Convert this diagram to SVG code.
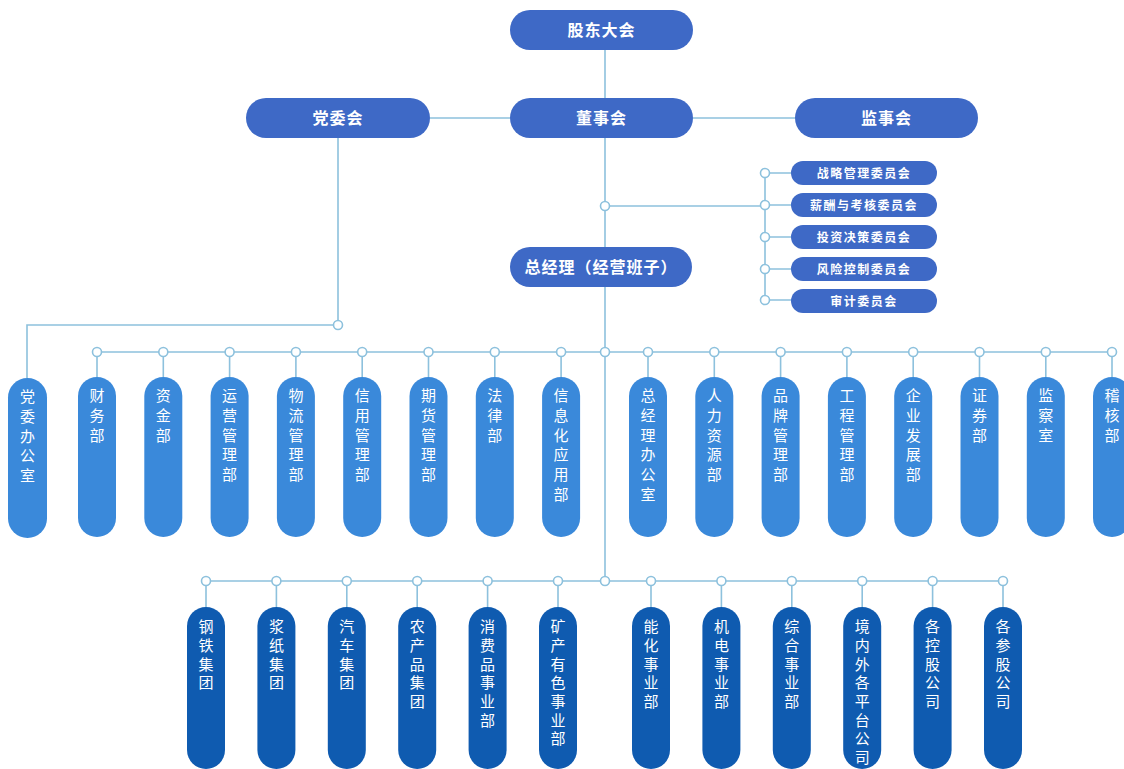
<svg xmlns="http://www.w3.org/2000/svg" width="1124" height="769" viewBox="0 0 1124 769">
<style>
text{font-family:"Noto Sans CJK SC","Noto Sans",sans-serif;fill:#fff;text-anchor:middle}
.top rect{fill:#3e69c6}
.top text{font-size:16px;font-weight:bold;letter-spacing:1px}
.com rect{fill:#3e69c6}
.com text{font-size:12px;font-weight:bold;letter-spacing:1.5px}
.dept rect{fill:#3a89da}
.bu rect{fill:#0f5bb0}
.v text{font-size:15px;writing-mode:vertical-rl;text-anchor:start}
.dept text{letter-spacing:4.7px}
.bu text{letter-spacing:3.7px}
.ln{stroke:#8dc1dd;stroke-width:1.6;fill:none}
.dot{fill:#fff;stroke:#8dc1dd;stroke-width:1.6}
</style>
<g id="connectors">
<path class="ln" d="M605 50V581"/>
<path class="ln" d="M430 118H510M693 118H795"/>
<path class="ln" d="M338 138V325H27V378"/>
<path class="ln" d="M605 206H765M765 173V300M765 173H791M765 205H791M765 237H791M765 269H791M765 300H791"/>
<path class="ln" d="M97 352H1112"/>
<path class="ln" d="M97 352V377M163.3 352V377M229.6 352V377M295.9 352V377M362.2 352V377M428.5 352V377M494.8 352V377M561.1 352V377M648 352V377M714.3 352V377M780.6 352V377M846.9 352V377M913.2 352V377M979.5 352V377M1045.8 352V377M1112 352V377"/>
<path class="ln" d="M206 581H1003"/>
<path class="ln" d="M206 581V607M276.4 581V607M346.8 581V607M417.2 581V607M487.6 581V607M558 581V607M651 581V607M721.4 581V607M791.8 581V607M862.2 581V607M932.6 581V607M1003 581V607"/>
<g>
<circle class="dot" cx="338" cy="325" r="4.5"/>
<circle class="dot" cx="605" cy="206" r="4.5"/>
<circle class="dot" cx="765" cy="173" r="4.5"/>
<circle class="dot" cx="765" cy="205" r="4.5"/>
<circle class="dot" cx="765" cy="237" r="4.5"/>
<circle class="dot" cx="765" cy="269" r="4.5"/>
<circle class="dot" cx="765" cy="300" r="4.5"/>
<circle class="dot" cx="605" cy="352" r="4.5"/>
<circle class="dot" cx="97" cy="352" r="4.5"/>
<circle class="dot" cx="163.3" cy="352" r="4.5"/>
<circle class="dot" cx="229.6" cy="352" r="4.5"/>
<circle class="dot" cx="295.9" cy="352" r="4.5"/>
<circle class="dot" cx="362.2" cy="352" r="4.5"/>
<circle class="dot" cx="428.5" cy="352" r="4.5"/>
<circle class="dot" cx="494.8" cy="352" r="4.5"/>
<circle class="dot" cx="561.1" cy="352" r="4.5"/>
<circle class="dot" cx="648" cy="352" r="4.5"/>
<circle class="dot" cx="714.3" cy="352" r="4.5"/>
<circle class="dot" cx="780.6" cy="352" r="4.5"/>
<circle class="dot" cx="846.9" cy="352" r="4.5"/>
<circle class="dot" cx="913.2" cy="352" r="4.5"/>
<circle class="dot" cx="979.5" cy="352" r="4.5"/>
<circle class="dot" cx="1045.8" cy="352" r="4.5"/>
<circle class="dot" cx="1112" cy="352" r="4.5"/>
<circle class="dot" cx="605" cy="581" r="4.5"/>
<circle class="dot" cx="206" cy="581" r="4.5"/>
<circle class="dot" cx="276.4" cy="581" r="4.5"/>
<circle class="dot" cx="346.8" cy="581" r="4.5"/>
<circle class="dot" cx="417.2" cy="581" r="4.5"/>
<circle class="dot" cx="487.6" cy="581" r="4.5"/>
<circle class="dot" cx="558" cy="581" r="4.5"/>
<circle class="dot" cx="651" cy="581" r="4.5"/>
<circle class="dot" cx="721.4" cy="581" r="4.5"/>
<circle class="dot" cx="791.8" cy="581" r="4.5"/>
<circle class="dot" cx="862.2" cy="581" r="4.5"/>
<circle class="dot" cx="932.6" cy="581" r="4.5"/>
<circle class="dot" cx="1003" cy="581" r="4.5"/>
</g>
</g>
<g id="gudong" class="top"><rect x="510" y="10" width="183" height="40" rx="20"/><text x="601.5" y="36">股东大会</text></g>
<g id="dangwei" class="top"><rect x="246" y="98" width="184" height="40" rx="20"/><text x="338" y="124">党委会</text></g>
<g id="dongshi" class="top"><rect x="510" y="98" width="183" height="40" rx="20"/><text x="601.5" y="124">董事会</text></g>
<g id="jianshi" class="top"><rect x="795" y="98" width="183" height="40" rx="20"/><text x="886.5" y="124">监事会</text></g>
<g id="zongjingli" class="top"><rect x="510" y="247" width="182" height="40" rx="20"/><text x="601" y="273">总经理（经营班子）</text></g>
<g id="c1" class="com"><rect x="791" y="161" width="146" height="24" rx="12"/><text x="864" y="177.5">战略管理委员会</text></g>
<g id="c2" class="com"><rect x="791" y="193" width="146" height="24" rx="12"/><text x="864" y="209.5">薪酬与考核委员会</text></g>
<g id="c3" class="com"><rect x="791" y="225" width="146" height="24" rx="12"/><text x="864" y="241.5">投资决策委员会</text></g>
<g id="c4" class="com"><rect x="791" y="257" width="146" height="24" rx="12"/><text x="864" y="273.5">风险控制委员会</text></g>
<g id="c5" class="com"><rect x="791" y="289" width="146" height="24" rx="12"/><text x="864" y="305.5">审计委员会</text></g>
<g id="d0" class="dept v"><rect x="8" y="378" width="39" height="160" rx="19.5"/><text x="27.5" y="389">党委办公室</text></g>
<g id="d1" class="dept v"><rect x="78" y="377" width="38" height="160" rx="19"/><text x="97" y="388">财务部</text></g>
<g id="d2" class="dept v"><rect x="144.3" y="377" width="38" height="160" rx="19"/><text x="163.3" y="388">资金部</text></g>
<g id="d3" class="dept v"><rect x="210.6" y="377" width="38" height="160" rx="19"/><text x="229.6" y="388">运营管理部</text></g>
<g id="d4" class="dept v"><rect x="276.9" y="377" width="38" height="160" rx="19"/><text x="295.9" y="388">物流管理部</text></g>
<g id="d5" class="dept v"><rect x="343.2" y="377" width="38" height="160" rx="19"/><text x="362.2" y="388">信用管理部</text></g>
<g id="d6" class="dept v"><rect x="409.5" y="377" width="38" height="160" rx="19"/><text x="428.5" y="388">期货管理部</text></g>
<g id="d7" class="dept v"><rect x="475.8" y="377" width="38" height="160" rx="19"/><text x="494.8" y="388">法律部</text></g>
<g id="d8" class="dept v"><rect x="542.1" y="377" width="38" height="160" rx="19"/><text x="561.1" y="388">信息化应用部</text></g>
<g id="d9" class="dept v"><rect x="629" y="377" width="38" height="160" rx="19"/><text x="648" y="388">总经理办公室</text></g>
<g id="d10" class="dept v"><rect x="695.3" y="377" width="38" height="160" rx="19"/><text x="714.3" y="388">人力资源部</text></g>
<g id="d11" class="dept v"><rect x="761.6" y="377" width="38" height="160" rx="19"/><text x="780.6" y="388">品牌管理部</text></g>
<g id="d12" class="dept v"><rect x="827.9" y="377" width="38" height="160" rx="19"/><text x="846.9" y="388">工程管理部</text></g>
<g id="d13" class="dept v"><rect x="894.2" y="377" width="38" height="160" rx="19"/><text x="913.2" y="388">企业发展部</text></g>
<g id="d14" class="dept v"><rect x="960.5" y="377" width="38" height="160" rx="19"/><text x="979.5" y="388">证券部</text></g>
<g id="d15" class="dept v"><rect x="1026.8" y="377" width="38" height="160" rx="19"/><text x="1045.8" y="388">监察室</text></g>
<g id="d16" class="dept v"><rect x="1093" y="377" width="38" height="160" rx="19"/><text x="1112" y="388">稽核部</text></g>
<g id="b1" class="bu v"><rect x="187" y="607" width="38" height="162" rx="19"/><text x="206" y="619">钢铁集团</text></g>
<g id="b2" class="bu v"><rect x="257.4" y="607" width="38" height="162" rx="19"/><text x="276.4" y="619">浆纸集团</text></g>
<g id="b3" class="bu v"><rect x="327.8" y="607" width="38" height="162" rx="19"/><text x="346.8" y="619">汽车集团</text></g>
<g id="b4" class="bu v"><rect x="398.2" y="607" width="38" height="162" rx="19"/><text x="417.2" y="619">农产品集团</text></g>
<g id="b5" class="bu v"><rect x="468.6" y="607" width="38" height="162" rx="19"/><text x="487.6" y="619">消费品事业部</text></g>
<g id="b6" class="bu v"><rect x="539" y="607" width="38" height="162" rx="19"/><text x="558" y="619">矿产有色事业部</text></g>
<g id="b7" class="bu v"><rect x="632" y="607" width="38" height="162" rx="19"/><text x="651" y="619">能化事业部</text></g>
<g id="b8" class="bu v"><rect x="702.4" y="607" width="38" height="162" rx="19"/><text x="721.4" y="619">机电事业部</text></g>
<g id="b9" class="bu v"><rect x="772.8" y="607" width="38" height="162" rx="19"/><text x="791.8" y="619">综合事业部</text></g>
<g id="b10" class="bu v"><rect x="843.2" y="607" width="38" height="162" rx="19"/><text x="862.2" y="619">境内外各平台公司</text></g>
<g id="b11" class="bu v"><rect x="913.6" y="607" width="38" height="162" rx="19"/><text x="932.6" y="619">各控股公司</text></g>
<g id="b12" class="bu v"><rect x="984" y="607" width="38" height="162" rx="19"/><text x="1003" y="619">各参股公司</text></g>
</svg>
